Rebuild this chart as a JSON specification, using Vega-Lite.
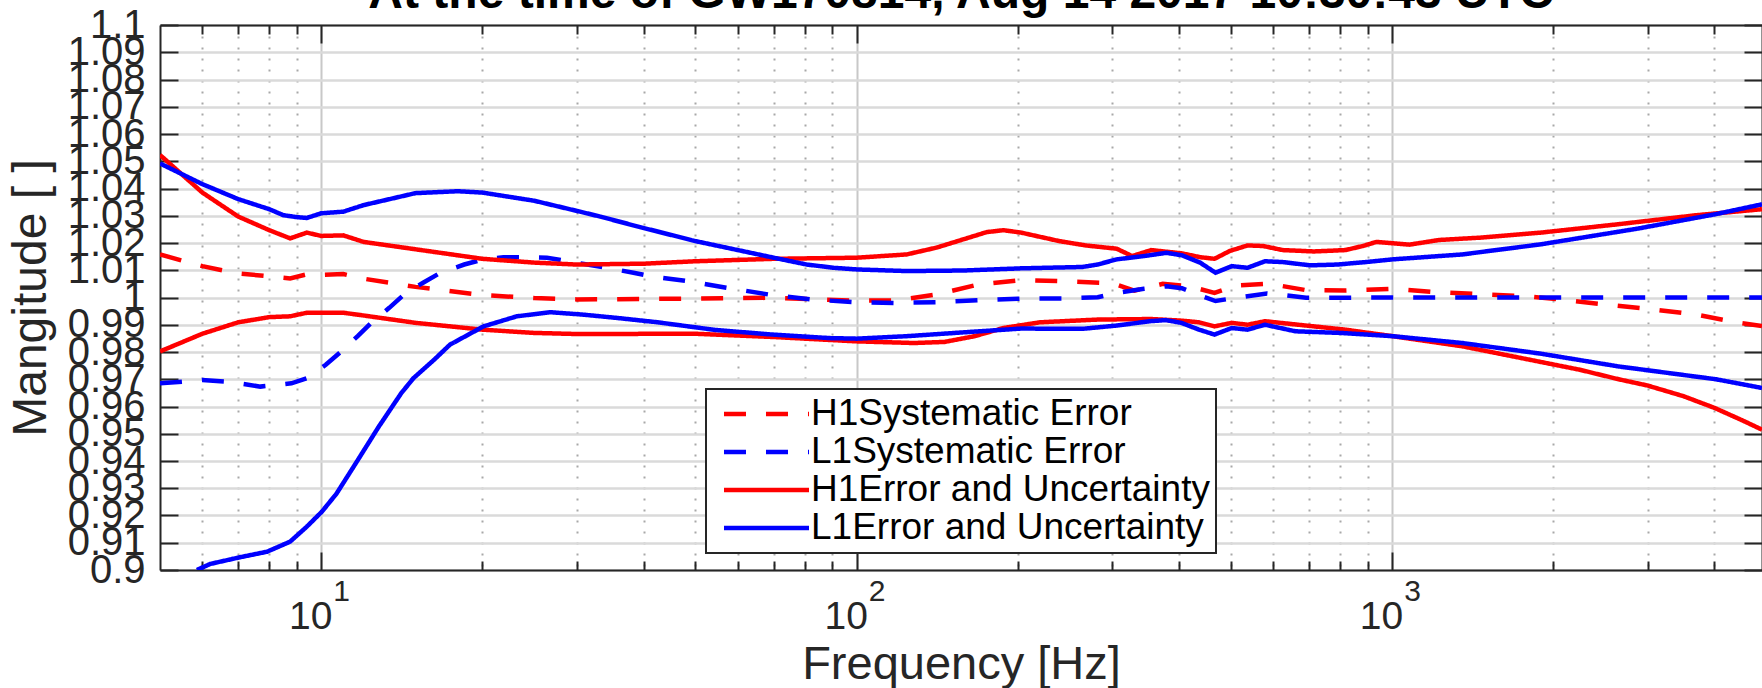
{
  "$schema": "https://vega.github.io/schema/vega-lite/v6.json",
  "width": 1602,
  "height": 545,
  "autosize": {"type": "none"},
  "padding": {"left": 160, "top": 25, "right": 0, "bottom": 118},
  "background": "white",
  "config": {"view": {"stroke": null}, "font": "Liberation Sans", "legend": {"strokeWidth": 2}},
  "title": {"text": "At the time of GW170814, Aug 14 2017 10:30:43 UTC", "fontSize": 48, "fontWeight": "bold", "font": "Liberation Sans", "color": "black", "anchor": "middle", "frame": "group", "baseline": "alphabetic", "offset": -51},
  "datasets": {
    "curves": [
      {"s":"H1Systematic Error","c":"m","f":5,"v":1.0158},{"s":"H1Systematic Error","c":"m","f":6,"v":1.0115},{"s":"H1Systematic Error","c":"m","f":7,"v":1.0088},{"s":"H1Systematic Error","c":"m","f":8,"v":1.0078},{"s":"H1Systematic Error","c":"m","f":8.75,"v":1.007},{"s":"H1Systematic Error","c":"m","f":9.4,"v":1.0085},{"s":"H1Systematic Error","c":"m","f":10,"v":1.0083},{"s":"H1Systematic Error","c":"m","f":11,"v":1.0086},{"s":"H1Systematic Error","c":"m","f":12,"v":1.0069},{"s":"H1Systematic Error","c":"m","f":15,"v":1.0039},{"s":"H1Systematic Error","c":"m","f":20,"v":1.0009},{"s":"H1Systematic Error","c":"m","f":25,"v":0.9998},{"s":"H1Systematic Error","c":"m","f":30,"v":0.9993},{"s":"H1Systematic Error","c":"m","f":50,"v":0.9996},{"s":"H1Systematic Error","c":"m","f":70,"v":0.9999},{"s":"H1Systematic Error","c":"m","f":97,"v":0.9989},{"s":"H1Systematic Error","c":"m","f":118,"v":0.9989},{"s":"H1Systematic Error","c":"m","f":141,"v":1.0011},{"s":"H1Systematic Error","c":"m","f":169,"v":1.0048},{"s":"H1Systematic Error","c":"m","f":203,"v":1.0064},{"s":"H1Systematic Error","c":"m","f":239,"v":1.006},{"s":"H1Systematic Error","c":"m","f":287,"v":1.0054},{"s":"H1Systematic Error","c":"m","f":301,"v":1.0052},{"s":"H1Systematic Error","c":"m","f":330,"v":1.0025},{"s":"H1Systematic Error","c":"m","f":373,"v":1.005},{"s":"H1Systematic Error","c":"m","f":405,"v":1.0044},{"s":"H1Systematic Error","c":"m","f":436,"v":1.0032},{"s":"H1Systematic Error","c":"m","f":466,"v":1.0017},{"s":"H1Systematic Error","c":"m","f":511,"v":1.0044},{"s":"H1Systematic Error","c":"m","f":584,"v":1.005},{"s":"H1Systematic Error","c":"m","f":615,"v":1.0044},{"s":"H1Systematic Error","c":"m","f":691,"v":1.0027},{"s":"H1Systematic Error","c":"m","f":818,"v":1.0026},{"s":"H1Systematic Error","c":"m","f":1003,"v":1.0032},{"s":"H1Systematic Error","c":"m","f":1183,"v":1.0021},{"s":"H1Systematic Error","c":"m","f":1423,"v":1.0013},{"s":"H1Systematic Error","c":"m","f":1771,"v":1.0005},{"s":"H1Systematic Error","c":"m","f":2128,"v":0.999},{"s":"H1Systematic Error","c":"m","f":2559,"v":0.9972},{"s":"H1Systematic Error","c":"m","f":3077,"v":0.9956},{"s":"H1Systematic Error","c":"m","f":3700,"v":0.9937},{"s":"H1Systematic Error","c":"m","f":4452,"v":0.9907},{"s":"H1Systematic Error","c":"m","f":4908,"v":0.9895},
      {"s":"L1Systematic Error","c":"m","f":5,"v":0.9685},{"s":"L1Systematic Error","c":"m","f":6,"v":0.9697},{"s":"L1Systematic Error","c":"m","f":6.7,"v":0.9691},{"s":"L1Systematic Error","c":"m","f":7.7,"v":0.9673},{"s":"L1Systematic Error","c":"m","f":8.8,"v":0.9685},{"s":"L1Systematic Error","c":"m","f":9.4,"v":0.9704},{"s":"L1Systematic Error","c":"m","f":10.2,"v":0.9753},{"s":"L1Systematic Error","c":"m","f":10.9,"v":0.9802},{"s":"L1Systematic Error","c":"m","f":11.7,"v":0.9858},{"s":"L1Systematic Error","c":"m","f":12.4,"v":0.9907},{"s":"L1Systematic Error","c":"m","f":13.4,"v":0.9962},{"s":"L1Systematic Error","c":"m","f":14.4,"v":1.0017},{"s":"L1Systematic Error","c":"m","f":15.5,"v":1.0054},{"s":"L1Systematic Error","c":"m","f":16.7,"v":1.0091},{"s":"L1Systematic Error","c":"m","f":18.5,"v":1.0121},{"s":"L1Systematic Error","c":"m","f":20.1,"v":1.014},{"s":"L1Systematic Error","c":"m","f":21.9,"v":1.0148},{"s":"L1Systematic Error","c":"m","f":23.9,"v":1.0148},{"s":"L1Systematic Error","c":"m","f":26.4,"v":1.0146},{"s":"L1Systematic Error","c":"m","f":28.7,"v":1.0134},{"s":"L1Systematic Error","c":"m","f":31.4,"v":1.0121},{"s":"L1Systematic Error","c":"m","f":34.1,"v":1.0109},{"s":"L1Systematic Error","c":"m","f":38.3,"v":1.0091},{"s":"L1Systematic Error","c":"m","f":41.2,"v":1.0078},{"s":"L1Systematic Error","c":"m","f":49.2,"v":1.0058},{"s":"L1Systematic Error","c":"m","f":57.1,"v":1.0036},{"s":"L1Systematic Error","c":"m","f":68.5,"v":1.0011},{"s":"L1Systematic Error","c":"m","f":82,"v":0.9993},{"s":"L1Systematic Error","c":"m","f":98.5,"v":0.9983},{"s":"L1Systematic Error","c":"m","f":118,"v":0.998},{"s":"L1Systematic Error","c":"m","f":141,"v":0.9983},{"s":"L1Systematic Error","c":"m","f":169,"v":0.999},{"s":"L1Systematic Error","c":"m","f":203,"v":0.9996},{"s":"L1Systematic Error","c":"m","f":243,"v":0.9996},{"s":"L1Systematic Error","c":"m","f":282,"v":1.0001},{"s":"L1Systematic Error","c":"m","f":306,"v":1.0017},{"s":"L1Systematic Error","c":"m","f":344,"v":1.0032},{"s":"L1Systematic Error","c":"m","f":379,"v":1.0041},{"s":"L1Systematic Error","c":"m","f":405,"v":1.0034},{"s":"L1Systematic Error","c":"m","f":438,"v":1.0007},{"s":"L1Systematic Error","c":"m","f":468,"v":0.9987},{"s":"L1Systematic Error","c":"m","f":511,"v":0.9999},{"s":"L1Systematic Error","c":"m","f":584,"v":1.0015},{"s":"L1Systematic Error","c":"m","f":625,"v":1.0009},{"s":"L1Systematic Error","c":"m","f":691,"v":0.9999},{"s":"L1Systematic Error","c":"m","f":1000,"v":1.0},{"s":"L1Systematic Error","c":"m","f":2000,"v":1.0},{"s":"L1Systematic Error","c":"m","f":4908,"v":1.0},
      {"s":"H1Error and Uncertainty","c":"u","f":5,"v":1.0523},{"s":"H1Error and Uncertainty","c":"u","f":6,"v":1.0385},{"s":"H1Error and Uncertainty","c":"u","f":7,"v":1.0297},{"s":"H1Error and Uncertainty","c":"u","f":8,"v":1.0247},{"s":"H1Error and Uncertainty","c":"u","f":8.75,"v":1.0217},{"s":"H1Error and Uncertainty","c":"u","f":9.4,"v":1.0238},{"s":"H1Error and Uncertainty","c":"u","f":10,"v":1.0226},{"s":"H1Error and Uncertainty","c":"u","f":11,"v":1.0228},{"s":"H1Error and Uncertainty","c":"u","f":12,"v":1.0204},{"s":"H1Error and Uncertainty","c":"u","f":15,"v":1.0177},{"s":"H1Error and Uncertainty","c":"u","f":20,"v":1.0142},{"s":"H1Error and Uncertainty","c":"u","f":25,"v":1.0128},{"s":"H1Error and Uncertainty","c":"u","f":30,"v":1.0121},{"s":"H1Error and Uncertainty","c":"u","f":40,"v":1.0124},{"s":"H1Error and Uncertainty","c":"u","f":50,"v":1.0133},{"s":"H1Error and Uncertainty","c":"u","f":70,"v":1.0142},{"s":"H1Error and Uncertainty","c":"u","f":100,"v":1.0146},{"s":"H1Error and Uncertainty","c":"u","f":124,"v":1.0158},{"s":"H1Error and Uncertainty","c":"u","f":141,"v":1.0183},{"s":"H1Error and Uncertainty","c":"u","f":158,"v":1.0213},{"s":"H1Error and Uncertainty","c":"u","f":175,"v":1.024},{"s":"H1Error and Uncertainty","c":"u","f":188,"v":1.0247},{"s":"H1Error and Uncertainty","c":"u","f":203,"v":1.0238},{"s":"H1Error and Uncertainty","c":"u","f":239,"v":1.0207},{"s":"H1Error and Uncertainty","c":"u","f":268,"v":1.0191},{"s":"H1Error and Uncertainty","c":"u","f":306,"v":1.0179},{"s":"H1Error and Uncertainty","c":"u","f":327,"v":1.0152},{"s":"H1Error and Uncertainty","c":"u","f":355,"v":1.0174},{"s":"H1Error and Uncertainty","c":"u","f":405,"v":1.0162},{"s":"H1Error and Uncertainty","c":"u","f":438,"v":1.0148},{"s":"H1Error and Uncertainty","c":"u","f":466,"v":1.0142},{"s":"H1Error and Uncertainty","c":"u","f":498,"v":1.0171},{"s":"H1Error and Uncertainty","c":"u","f":537,"v":1.0191},{"s":"H1Error and Uncertainty","c":"u","f":574,"v":1.0189},{"s":"H1Error and Uncertainty","c":"u","f":625,"v":1.0174},{"s":"H1Error and Uncertainty","c":"u","f":715,"v":1.0169},{"s":"H1Error and Uncertainty","c":"u","f":818,"v":1.0174},{"s":"H1Error and Uncertainty","c":"u","f":882,"v":1.0189},{"s":"H1Error and Uncertainty","c":"u","f":935,"v":1.0204},{"s":"H1Error and Uncertainty","c":"u","f":1003,"v":1.0199},{"s":"H1Error and Uncertainty","c":"u","f":1078,"v":1.0194},{"s":"H1Error and Uncertainty","c":"u","f":1223,"v":1.0211},{"s":"H1Error and Uncertainty","c":"u","f":1471,"v":1.022},{"s":"H1Error and Uncertainty","c":"u","f":1894,"v":1.0238},{"s":"H1Error and Uncertainty","c":"u","f":2649,"v":1.0269},{"s":"H1Error and Uncertainty","c":"u","f":3700,"v":1.0302},{"s":"H1Error and Uncertainty","c":"u","f":4908,"v":1.0324},
      {"s":"H1Error and Uncertainty","c":"l","f":5,"v":0.9802},{"s":"H1Error and Uncertainty","c":"l","f":6,"v":0.9867},{"s":"H1Error and Uncertainty","c":"l","f":7,"v":0.9909},{"s":"H1Error and Uncertainty","c":"l","f":8,"v":0.9928},{"s":"H1Error and Uncertainty","c":"l","f":8.75,"v":0.9931},{"s":"H1Error and Uncertainty","c":"l","f":9.4,"v":0.9944},{"s":"H1Error and Uncertainty","c":"l","f":10,"v":0.9944},{"s":"H1Error and Uncertainty","c":"l","f":11,"v":0.9944},{"s":"H1Error and Uncertainty","c":"l","f":12,"v":0.9934},{"s":"H1Error and Uncertainty","c":"l","f":15,"v":0.9907},{"s":"H1Error and Uncertainty","c":"l","f":20,"v":0.9882},{"s":"H1Error and Uncertainty","c":"l","f":25,"v":0.987},{"s":"H1Error and Uncertainty","c":"l","f":30,"v":0.9866},{"s":"H1Error and Uncertainty","c":"l","f":50,"v":0.9867},{"s":"H1Error and Uncertainty","c":"l","f":70,"v":0.9855},{"s":"H1Error and Uncertainty","c":"l","f":100,"v":0.9839},{"s":"H1Error and Uncertainty","c":"l","f":128,"v":0.9833},{"s":"H1Error and Uncertainty","c":"l","f":146,"v":0.9837},{"s":"H1Error and Uncertainty","c":"l","f":166,"v":0.9858},{"s":"H1Error and Uncertainty","c":"l","f":188,"v":0.9888},{"s":"H1Error and Uncertainty","c":"l","f":220,"v":0.9909},{"s":"H1Error and Uncertainty","c":"l","f":282,"v":0.9919},{"s":"H1Error and Uncertainty","c":"l","f":355,"v":0.9921},{"s":"H1Error and Uncertainty","c":"l","f":405,"v":0.9915},{"s":"H1Error and Uncertainty","c":"l","f":436,"v":0.9909},{"s":"H1Error and Uncertainty","c":"l","f":466,"v":0.9894},{"s":"H1Error and Uncertainty","c":"l","f":502,"v":0.9907},{"s":"H1Error and Uncertainty","c":"l","f":537,"v":0.99},{"s":"H1Error and Uncertainty","c":"l","f":579,"v":0.9913},{"s":"H1Error and Uncertainty","c":"l","f":691,"v":0.9897},{"s":"H1Error and Uncertainty","c":"l","f":818,"v":0.9882},{"s":"H1Error and Uncertainty","c":"l","f":1003,"v":0.9858},{"s":"H1Error and Uncertainty","c":"l","f":1352,"v":0.9821},{"s":"H1Error and Uncertainty","c":"l","f":1741,"v":0.9778},{"s":"H1Error and Uncertainty","c":"l","f":2240,"v":0.9735},{"s":"H1Error and Uncertainty","c":"l","f":2649,"v":0.97},{"s":"H1Error and Uncertainty","c":"l","f":3000,"v":0.9677},{"s":"H1Error and Uncertainty","c":"l","f":3500,"v":0.9638},{"s":"H1Error and Uncertainty","c":"l","f":4000,"v":0.9595},{"s":"H1Error and Uncertainty","c":"l","f":4500,"v":0.955},{"s":"H1Error and Uncertainty","c":"l","f":4908,"v":0.9515},
      {"s":"L1Error and Uncertainty","c":"u","f":5,"v":1.0492},{"s":"L1Error and Uncertainty","c":"u","f":6,"v":1.0416},{"s":"L1Error and Uncertainty","c":"u","f":7,"v":1.0361},{"s":"L1Error and Uncertainty","c":"u","f":8,"v":1.0324},{"s":"L1Error and Uncertainty","c":"u","f":8.5,"v":1.0302},{"s":"L1Error and Uncertainty","c":"u","f":9,"v":1.0295},{"s":"L1Error and Uncertainty","c":"u","f":9.4,"v":1.0292},{"s":"L1Error and Uncertainty","c":"u","f":10,"v":1.0309},{"s":"L1Error and Uncertainty","c":"u","f":11,"v":1.0315},{"s":"L1Error and Uncertainty","c":"u","f":12,"v":1.0339},{"s":"L1Error and Uncertainty","c":"u","f":15,"v":1.0383},{"s":"L1Error and Uncertainty","c":"u","f":18,"v":1.039},{"s":"L1Error and Uncertainty","c":"u","f":20,"v":1.0385},{"s":"L1Error and Uncertainty","c":"u","f":25,"v":1.0355},{"s":"L1Error and Uncertainty","c":"u","f":30,"v":1.0318},{"s":"L1Error and Uncertainty","c":"u","f":33.2,"v":1.0297},{"s":"L1Error and Uncertainty","c":"u","f":39.1,"v":1.026},{"s":"L1Error and Uncertainty","c":"u","f":50,"v":1.0207},{"s":"L1Error and Uncertainty","c":"u","f":60,"v":1.0174},{"s":"L1Error and Uncertainty","c":"u","f":70,"v":1.0146},{"s":"L1Error and Uncertainty","c":"u","f":80.7,"v":1.0121},{"s":"L1Error and Uncertainty","c":"u","f":90.6,"v":1.0109},{"s":"L1Error and Uncertainty","c":"u","f":100,"v":1.0103},{"s":"L1Error and Uncertainty","c":"u","f":124,"v":1.0097},{"s":"L1Error and Uncertainty","c":"u","f":158,"v":1.0099},{"s":"L1Error and Uncertainty","c":"u","f":203,"v":1.0107},{"s":"L1Error and Uncertainty","c":"u","f":264,"v":1.0112},{"s":"L1Error and Uncertainty","c":"u","f":282,"v":1.0121},{"s":"L1Error and Uncertainty","c":"u","f":306,"v":1.014},{"s":"L1Error and Uncertainty","c":"u","f":344,"v":1.0152},{"s":"L1Error and Uncertainty","c":"u","f":379,"v":1.0164},{"s":"L1Error and Uncertainty","c":"u","f":405,"v":1.0155},{"s":"L1Error and Uncertainty","c":"u","f":438,"v":1.0128},{"s":"L1Error and Uncertainty","c":"u","f":468,"v":1.0091},{"s":"L1Error and Uncertainty","c":"u","f":502,"v":1.0115},{"s":"L1Error and Uncertainty","c":"u","f":537,"v":1.0109},{"s":"L1Error and Uncertainty","c":"u","f":579,"v":1.0133},{"s":"L1Error and Uncertainty","c":"u","f":625,"v":1.013},{"s":"L1Error and Uncertainty","c":"u","f":703,"v":1.0118},{"s":"L1Error and Uncertainty","c":"u","f":791,"v":1.0121},{"s":"L1Error and Uncertainty","c":"u","f":904,"v":1.0131},{"s":"L1Error and Uncertainty","c":"u","f":1003,"v":1.014},{"s":"L1Error and Uncertainty","c":"u","f":1352,"v":1.0158},{"s":"L1Error and Uncertainty","c":"u","f":1894,"v":1.0195},{"s":"L1Error and Uncertainty","c":"u","f":2880,"v":1.0253},{"s":"L1Error and Uncertainty","c":"u","f":4027,"v":1.0306},{"s":"L1Error and Uncertainty","c":"u","f":4908,"v":1.0342},
      {"s":"L1Error and Uncertainty","c":"l","f":5.86,"v":0.9},{"s":"L1Error and Uncertainty","c":"l","f":6.2,"v":0.9022},{"s":"L1Error and Uncertainty","c":"l","f":7.06,"v":0.9047},{"s":"L1Error and Uncertainty","c":"l","f":7.92,"v":0.9067},{"s":"L1Error and Uncertainty","c":"l","f":8.75,"v":0.9104},{"s":"L1Error and Uncertainty","c":"l","f":9.4,"v":0.9159},{"s":"L1Error and Uncertainty","c":"l","f":10.03,"v":0.9214},{"s":"L1Error and Uncertainty","c":"l","f":10.68,"v":0.928},{"s":"L1Error and Uncertainty","c":"l","f":11.59,"v":0.939},{"s":"L1Error and Uncertainty","c":"l","f":12.8,"v":0.9525},{"s":"L1Error and Uncertainty","c":"l","f":14.1,"v":0.9648},{"s":"L1Error and Uncertainty","c":"l","f":14.87,"v":0.9704},{"s":"L1Error and Uncertainty","c":"l","f":16.24,"v":0.9771},{"s":"L1Error and Uncertainty","c":"l","f":17.4,"v":0.9827},{"s":"L1Error and Uncertainty","c":"l","f":20.1,"v":0.9894},{"s":"L1Error and Uncertainty","c":"l","f":23.2,"v":0.9931},{"s":"L1Error and Uncertainty","c":"l","f":26.8,"v":0.9946},{"s":"L1Error and Uncertainty","c":"l","f":30.9,"v":0.9937},{"s":"L1Error and Uncertainty","c":"l","f":35.7,"v":0.9925},{"s":"L1Error and Uncertainty","c":"l","f":42.5,"v":0.9909},{"s":"L1Error and Uncertainty","c":"l","f":54.4,"v":0.9881},{"s":"L1Error and Uncertainty","c":"l","f":69.6,"v":0.9864},{"s":"L1Error and Uncertainty","c":"l","f":89.1,"v":0.9851},{"s":"L1Error and Uncertainty","c":"l","f":100,"v":0.9849},{"s":"L1Error and Uncertainty","c":"l","f":124,"v":0.9858},{"s":"L1Error and Uncertainty","c":"l","f":158,"v":0.9872},{"s":"L1Error and Uncertainty","c":"l","f":203,"v":0.9886},{"s":"L1Error and Uncertainty","c":"l","f":264,"v":0.9885},{"s":"L1Error and Uncertainty","c":"l","f":306,"v":0.9897},{"s":"L1Error and Uncertainty","c":"l","f":353,"v":0.9913},{"s":"L1Error and Uncertainty","c":"l","f":378,"v":0.9917},{"s":"L1Error and Uncertainty","c":"l","f":404,"v":0.9907},{"s":"L1Error and Uncertainty","c":"l","f":436,"v":0.9882},{"s":"L1Error and Uncertainty","c":"l","f":466,"v":0.9864},{"s":"L1Error and Uncertainty","c":"l","f":502,"v":0.9888},{"s":"L1Error and Uncertainty","c":"l","f":537,"v":0.9882},{"s":"L1Error and Uncertainty","c":"l","f":579,"v":0.99},{"s":"L1Error and Uncertainty","c":"l","f":660,"v":0.9876},{"s":"L1Error and Uncertainty","c":"l","f":800,"v":0.987},{"s":"L1Error and Uncertainty","c":"l","f":1003,"v":0.9858},{"s":"L1Error and Uncertainty","c":"l","f":1352,"v":0.9833},{"s":"L1Error and Uncertainty","c":"l","f":1894,"v":0.9794},{"s":"L1Error and Uncertainty","c":"l","f":2649,"v":0.9747},{"s":"L1Error and Uncertainty","c":"l","f":4027,"v":0.97},{"s":"L1Error and Uncertainty","c":"l","f":4908,"v":0.9668}
    ]
  },
  "data": {"name": "curves"},
  "resolve": {"axis": {"x": "independent", "y": "independent"}},
  "layer": [
    {
      "mark": {"type": "line", "strokeWidth": 4.5, "clip": true},
      "encoding": {
        "x": {"field": "f", "type": "quantitative", "scale": {"type": "log", "domain": [5, 4908], "nice": false},
          "axis": {"orient": "bottom", "values": [10, 100, 1000], "labelExpr": "'10'", "labelFontSize": 39, "labelFont": "Liberation Sans", "labelColor": "#262626", "labelOffset": -11, "labelBaseline": "alphabetic", "labelPadding": 76, "labelFlush": false, "labelOverlap": false, "tickSize": -18, "tickColor": "#262626", "tickWidth": 2, "domainColor": "#262626", "domainWidth": 2, "grid": true, "gridColor": "#c8c8c8", "gridWidth": 2, "title": "Frequency [Hz]", "titleFontSize": 47, "titleFont": "Liberation Sans", "titleFontWeight": "normal", "titleColor": "#262626", "titlePadding": 5}},
        "y": {"field": "v", "type": "quantitative", "scale": {"domain": [0.9, 1.1], "nice": false, "zero": false},
          "axis": {"orient": "left", "values": [0.9,0.91,0.92,0.93,0.94,0.95,0.96,0.97,0.98,0.99,1,1.01,1.02,1.03,1.04,1.05,1.06,1.07,1.08,1.09,1.1], "format": "~g", "labelFontSize": 40, "labelFont": "Liberation Sans", "labelColor": "#262626", "labelPadding": 33, "labelFlush": false, "labelOverlap": false, "labelBound": false, "tickSize": -18, "tickColor": "#262626", "tickWidth": 2, "domainColor": "#262626", "domainWidth": 2, "grid": true, "gridColor": "#dadada", "gridWidth": 2.5, "title": "Mangitude [ ]", "titleFontSize": 48, "titleFont": "Liberation Sans", "titleFontWeight": "normal", "titleColor": "#262626", "titlePadding": 12}},
        "color": {"field": "s", "type": "nominal",
          "scale": {"domain": ["H1Systematic Error", "L1Systematic Error", "H1Error and Uncertainty", "L1Error and Uncertainty"], "range": ["#ff0000", "#0000ff", "#ff0000", "#0000ff"]},
          "legend": {"title": null, "orient": "none", "legendX": 546, "legendY": 364, "symbolType": "M-3,0H3", "symbolSize": 803, "symbolStrokeWidth": 4.5, "labelFontSize": 37, "labelFont": "Liberation Sans", "labelColor": "black", "labelLimit": 600, "padding": 6, "rowPadding": 0, "clipHeight": 38, "symbolOffset": 36, "labelOffset": 26, "fillColor": "white", "strokeColor": "#262626"}},
        "strokeDash": {"field": "s", "type": "nominal",
          "scale": {"domain": ["H1Systematic Error", "L1Systematic Error", "H1Error and Uncertainty", "L1Error and Uncertainty"], "range": [[22, 20], [22, 20], [1, 0], [1, 0]]},
          "legend": {"title": null, "orient": "none", "legendX": 546, "legendY": 364, "symbolType": "M-3,0H3", "symbolSize": 803, "symbolStrokeWidth": 4.5, "labelFontSize": 37, "labelFont": "Liberation Sans", "labelColor": "black", "labelLimit": 600, "padding": 6, "rowPadding": 0, "clipHeight": 38, "symbolOffset": 36, "labelOffset": 26, "fillColor": "white", "strokeColor": "#262626"}},
        "detail": {"field": "c", "type": "nominal"}
      }
    },
    {
      "mark": {"type": "point", "opacity": 0},
      "encoding": {
        "x": {"field": "f", "type": "quantitative", "scale": {"type": "log", "domain": [5, 4908], "nice": false},
          "axis": {"orient": "bottom", "values": [6,7,8,9,20,30,40,50,60,70,80,90,200,300,400,500,600,700,800,900,2000,3000,4000], "labels": false, "tickSize": -9, "tickColor": "#262626", "tickWidth": 2, "domain": false, "grid": true, "gridColor": "#a8a8a8", "gridWidth": 2, "gridDash": [2, 9], "title": null}},
        "y": {"field": "v", "type": "quantitative", "scale": {"domain": [0.9, 1.1], "nice": false, "zero": false},
          "axis": {"orient": "right", "values": [0.9,0.91,0.92,0.93,0.94,0.95,0.96,0.97,0.98,0.99,1,1.01,1.02,1.03,1.04,1.05,1.06,1.07,1.08,1.09,1.1], "labels": false, "tickSize": -18, "tickColor": "#262626", "tickWidth": 2, "domainColor": "#262626", "domainWidth": 2, "grid": false, "title": null}}
      }
    },
    {
      "mark": {"type": "point", "opacity": 0},
      "encoding": {
        "x": {"field": "f", "type": "quantitative", "scale": {"type": "log", "domain": [5, 4908], "nice": false},
          "axis": {"orient": "bottom", "values": [10, 100, 1000], "labelExpr": "datum.value == 10 ? '1' : datum.value == 100 ? '2' : '3'", "labelFontSize": 30, "labelFont": "Liberation Sans", "labelColor": "#262626", "labelOffset": 20, "labelBaseline": "alphabetic", "labelPadding": 30, "labelFlush": false, "labelOverlap": false, "ticks": false, "domain": false, "grid": false, "title": null}},
        "y": {"field": "v", "type": "quantitative", "axis": null}
      }
    },
    {
      "mark": {"type": "point", "opacity": 0},
      "encoding": {
        "x": {"field": "f", "type": "quantitative", "scale": {"type": "log", "domain": [5, 4908], "nice": false},
          "axis": {"orient": "top", "values": [10, 100, 1000], "labels": false, "tickSize": -18, "tickColor": "#262626", "tickWidth": 2, "domainColor": "#262626", "domainWidth": 2, "grid": false, "title": null}},
        "y": {"field": "v", "type": "quantitative", "axis": null}
      }
    },
    {
      "mark": {"type": "point", "opacity": 0},
      "encoding": {
        "x": {"field": "f", "type": "quantitative", "scale": {"type": "log", "domain": [5, 4908], "nice": false},
          "axis": {"orient": "top", "values": [6,7,8,9,20,30,40,50,60,70,80,90,200,300,400,500,600,700,800,900,2000,3000,4000], "labels": false, "tickSize": -9, "tickColor": "#262626", "tickWidth": 2, "domain": false, "grid": false, "title": null}},
        "y": {"field": "v", "type": "quantitative", "axis": null}
      }
    }
  ]
}
